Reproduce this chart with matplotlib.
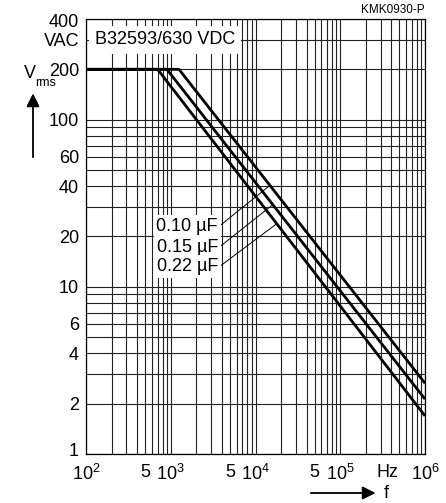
import numpy as np
import matplotlib
matplotlib.use("Agg")
import matplotlib.pyplot as plt
from matplotlib.ticker import FixedLocator, NullFormatter
from matplotlib.transforms import ScaledTranslation

plt.rcParams['font.family'] = ['Liberation Sans', 'DejaVu Sans']
plt.rcParams['mathtext.fontset'] = 'custom'
plt.rcParams['mathtext.rm'] = 'Liberation Sans'

# curves: flat at 200 V up to the knee, then straight (log-log) down to 1 MHz
capacitances = ["0.10 µF", "0.15 µF", "0.22 µF"]
f_points = {
    "0.10 µF": [100, 1250, 1e6],
    "0.15 µF": [100, 900, 1e6],
    "0.22 µF": [100, 700, 1e6],
}
v_points = {
    "0.10 µF": [200, 200, 2.65],
    "0.15 µF": [200, 200, 2.13],
    "0.22 µF": [200, 200, 1.69],
}
# where the leader lines touch the curves
leader_f = {"0.10 µF": 1.48e4, "0.15 µF": 1.6e4, "0.22 µF": 1.78e4}
label_v = [23.1, 17.3, 13.2]

ytick_vals = [1, 2, 4, 6, 10, 20, 40, 60, 100, 200, 300, 400]
ytick_labels = ["1", "2", "4", "6", "10", "20", "40", "60", "100", "200", "VAC", "400"]
xtick_vals = [1e2, 5e2, 1e3, 5e3, 1e4, 5e4, 1e5, 3.6e5, 1e6]
xtick_labels = [r"$\mathregular{10^2}$", "5", r"$\mathregular{10^3}$", "5",
                r"$\mathregular{10^4}$", "5", r"$\mathregular{10^5}$", "Hz",
                r"$\mathregular{10^6}$"]


def curve_at(name, f):
    lf = np.log10(f_points[name])
    lv = np.log10(v_points[name])
    return 10 ** np.interp(np.log10(f), lf, lv)


fig = plt.figure(figsize=(4.46, 5.03), dpi=100)
ax = fig.add_axes([86 / 446, 49 / 503, 339 / 446, 435 / 503])
ax.set_xscale("log")
ax.set_yscale("log")
ax.set_xlim(1e2, 1e6)
ax.set_ylim(1, 400)

# grid: every 1..9 in each decade
gx = [m * 10 ** e for e in range(2, 6) for m in range(1, 10)] + [1e6]
gy = [m * 10 ** e for e in range(0, 3) for m in range(1, 10) if m * 10 ** e <= 400]
for x in gx:
    ax.axvline(x, color="#222222", lw=0.8, zorder=1)
for y in gy:
    ax.axhline(y, color="#222222", lw=0.8, zorder=1)

for name in capacitances:
    ax.plot(f_points[name], v_points[name], color="black", lw=2.0,
            solid_capstyle="butt", zorder=3)

ax.yaxis.set_major_locator(FixedLocator(ytick_vals))
ax.yaxis.set_minor_locator(FixedLocator([]))
ax.set_yticklabels(ytick_labels)
ax.xaxis.set_major_locator(FixedLocator(xtick_vals))
ax.xaxis.set_minor_locator(FixedLocator([]))
ax.xaxis.set_minor_formatter(NullFormatter())
ax.set_xticklabels(xtick_labels)
ax.tick_params(length=0, labelsize=13, pad=5)
ax.tick_params(axis="x", pad=7)
for lab in ax.get_yticklabels():
    if lab.get_text() == "1":
        lab.set_transform(lab.get_transform() + ScaledTranslation(0, 4 / 100, fig.dpi_scale_trans))
    if lab.get_text() == "400":
        lab.set_transform(lab.get_transform() + ScaledTranslation(0, -2 / 100, fig.dpi_scale_trans))
for s in ax.spines.values():
    s.set_linewidth(0.9)

# title box
ax.text(128, 300, "B32593/630 VDC", fontsize=13, va="center", ha="left",
        zorder=5, bbox=dict(facecolor="white", edgecolor="none", pad=4))

# capacitance labels with leader lines
for name, lv in zip(capacitances, label_v):
    ax.text(3.6e3, lv, name, fontsize=13, ha="right", va="center", zorder=5,
            bbox=dict(facecolor="white", edgecolor="none", pad=2))
    fx = leader_f[name]
    ax.plot([3.75e3, fx], [lv, curve_at(name, fx)], color="black", lw=0.7, zorder=4)

fig.text(425 / 446, 1 - 10 / 503, "KMK0930-P", fontsize=8.5, ha="right", va="center")

# V_rms with up arrow
fig.text(24 / 446, 1 - 74 / 503, "V", fontsize=13, ha="left", va="center")
fig.text(35 / 446, 1 - 83 / 503, "rms", fontsize=9, ha="left", va="center")
fig.add_artist(plt.annotate("", xy=(33 / 446, 1 - 91 / 503), xytext=(33 / 446, 1 - 160 / 503),
                            xycoords="figure fraction",
                            arrowprops=dict(arrowstyle="-|>", color="black", lw=1.0,
                                            mutation_scale=20)))

# f with right arrow
fig.text(386 / 446, 1 - 494 / 503, "f", fontsize=13, ha="center", va="center")
fig.add_artist(plt.annotate("", xy=(378 / 446, 1 - 493 / 503), xytext=(308 / 446, 1 - 493 / 503),
                            xycoords="figure fraction",
                            arrowprops=dict(arrowstyle="-|>", color="black", lw=1.0,
                                            mutation_scale=20)))

fig.savefig("out.png", dpi=100)
